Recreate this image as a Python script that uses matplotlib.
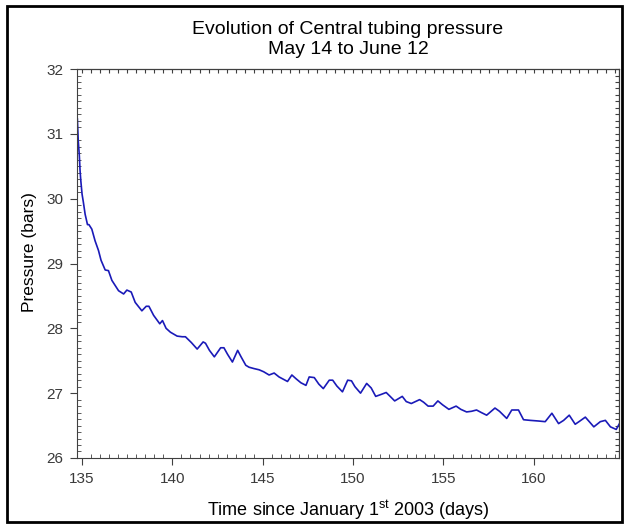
import numpy as np
import matplotlib
matplotlib.use("Agg")
import matplotlib.pyplot as plt
from matplotlib.ticker import MultipleLocator
from matplotlib.patches import Rectangle

plt.rcParams['font.family'] = ['Liberation Sans', 'DejaVu Sans']
plt.rcParams['mathtext.fontset'] = 'custom'
plt.rcParams['mathtext.rm'] = 'Liberation Sans'

# readings: time (days since Jan 1st 2003) and pressure (bars)
days = [134.74, 134.79, 134.85, 134.89, 134.93, 135.00, 135.07, 135.17, 135.30,
        135.38, 135.54, 135.72, 135.91, 136.05, 136.28, 136.46, 136.65, 137.02,
        137.30, 137.48, 137.72, 137.94, 138.31, 138.55, 138.70, 138.96, 139.30,
        139.45, 139.65, 139.89, 140.26, 140.54, 140.72, 141.05, 141.37, 141.70,
        141.83, 142.05, 142.32, 142.67, 142.85, 143.05, 143.32, 143.61, 143.80,
        144.06, 144.24, 144.50, 144.80, 145.05, 145.35, 145.63, 145.90, 146.37,
        146.61, 146.85, 147.11, 147.39, 147.57, 147.85, 148.10, 148.35, 148.68,
        148.87, 149.10, 149.41, 149.70, 149.91, 150.10, 150.41, 150.75, 151.00,
        151.25, 151.55, 151.83, 152.05, 152.30, 152.72, 152.94, 153.22, 153.68,
        153.90, 154.15, 154.43, 154.69, 154.95, 155.30, 155.70, 155.96, 156.28,
        156.55, 156.83, 157.10, 157.39, 157.85, 158.10, 158.50, 158.78, 159.15,
        159.43, 159.80, 160.26, 160.63, 161.00, 161.37, 161.65, 161.96, 162.29,
        162.55, 162.85, 163.32, 163.68, 163.96, 164.24, 164.56, 164.80]
pressure = [31.23, 30.89, 30.66, 30.43, 30.28, 30.07, 29.95, 29.76, 29.60,
            29.60, 29.53, 29.35, 29.20, 29.05, 28.90, 28.89, 28.74, 28.58,
            28.53, 28.59, 28.56, 28.40, 28.27, 28.34, 28.34, 28.20, 28.07,
            28.12, 28.00, 27.94, 27.88, 27.87, 27.87, 27.78, 27.68, 27.79,
            27.77, 27.66, 27.56, 27.70, 27.70, 27.60, 27.48, 27.66, 27.56,
            27.43, 27.40, 27.38, 27.36, 27.33, 27.28, 27.31, 27.25, 27.18,
            27.28, 27.22, 27.16, 27.12, 27.25, 27.24, 27.14, 27.07, 27.20,
            27.20, 27.11, 27.02, 27.20, 27.19, 27.10, 27.00, 27.15, 27.08,
            26.95, 26.98, 27.01, 26.95, 26.88, 26.95, 26.87, 26.84, 26.90,
            26.86, 26.80, 26.80, 26.88, 26.82, 26.75, 26.80, 26.75, 26.71,
            26.72, 26.74, 26.70, 26.66, 26.77, 26.72, 26.61, 26.74, 26.74,
            26.59, 26.58, 26.57, 26.56, 26.69, 26.53, 26.58, 26.66, 26.52,
            26.57, 26.63, 26.48, 26.56, 26.58, 26.48, 26.44, 26.56]

fig = plt.figure(figsize=(6.26, 5.27), dpi=100)
ax = fig.add_axes([0.123, 0.131, 0.866, 0.738])

ax.plot(days, pressure, color='#1a1ab8', linewidth=1.2, solid_joinstyle='round')

ax.set_xlim(134.72, 164.72)
ax.set_ylim(26, 32)

ax.xaxis.set_major_locator(MultipleLocator(5))
ax.xaxis.set_minor_locator(MultipleLocator(0.5))
ax.yaxis.set_major_locator(MultipleLocator(1))
ax.yaxis.set_minor_locator(MultipleLocator(0.1))

gray = '#404040'
for s in ax.spines.values():
    s.set_color(gray)
ax.tick_params(which='major', direction='out', length=5, color=gray,
               labelsize=11, labelcolor='#3a3a3a', pad=5)
ax.tick_params(which='minor', direction='in', length=3, color=gray)

# inward ticks on top and right
top = ax.secondary_xaxis('top')
top.xaxis.set_major_locator(MultipleLocator(0.5))
top.tick_params(direction='in', length=3, color=gray, labeltop=False)
right = ax.secondary_yaxis('right')
right.yaxis.set_major_locator(MultipleLocator(0.1))
right.tick_params(direction='in', length=3, color=gray, labelright=False)

ax.set_xlabel(r"Time since January 1$^{\mathrm{st}}$ 2003 (days)", fontsize=13, labelpad=9)
ax.set_ylabel("Pressure (bars)", fontsize=12.5)
ax.yaxis.set_label_coords(-0.074, 0.53)

fig.text(348 / 626, 1 - 30 / 527, "Evolution of Central tubing pressure",
         fontsize=14, ha='center', va='center')
fig.text(348 / 626, 1 - 50 / 527, "May 14 to June 12",
         fontsize=14, ha='center', va='center')

fig.patches.append(Rectangle((0.011, 0.009), 0.982, 0.979, transform=fig.transFigure,
                             fill=False, edgecolor='black', linewidth=2))

fig.savefig('out.png', dpi=100)
